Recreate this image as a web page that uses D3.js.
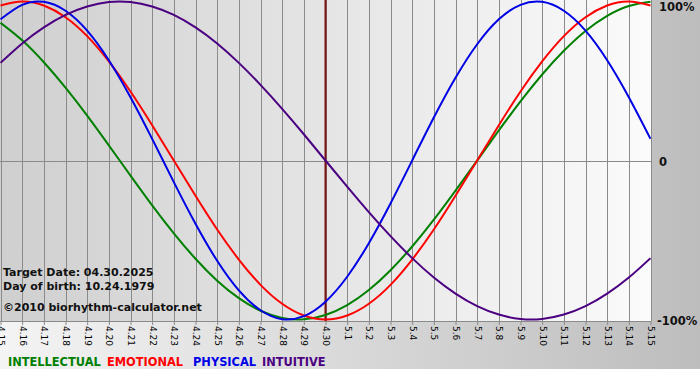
<!DOCTYPE html>
<html><head><meta charset="utf-8">
<script src="https://cdn.jsdelivr.net/npm/d3@7"></script>
<style>
html,body{margin:0;padding:0;background:#fff;}
svg{display:block;font-family:"DejaVu Sans",Verdana,sans-serif;}
</style></head>
<body><svg id="c" width="700" height="380"></svg>
<script>
const dates = ["4.15","4.16","4.17","4.18","4.19","4.20","4.21","4.22","4.23","4.24","4.25","4.26","4.27","4.28","4.29","4.30",
  "5.1","5.2","5.3","5.4","5.5","5.6","5.7","5.8","5.9","5.10","5.11","5.12","5.13","5.14","5.15"];
const targetDate = "4.30";
const physical = [88.8,97.9,99.8,94.2,81.7,63.1,39.8,13.6,-13.6,-39.8,-63.1,-81.7,-94.2,-99.8,-97.9,-88.8,
  -73.1,-52.0,-27.0,0,27.0,52.0,73.1,88.8,97.9,99.8,94.2,81.7,63.1,39.8,13.6];
const emotional = [97.5,100,97.5,90.1,78.2,62.3,43.4,22.2,0,-22.2,-43.4,-62.3,-78.2,-90.1,-97.5,-100,
  -97.5,-90.1,-78.2,-62.3,-43.4,-22.2,0,22.2,43.4,62.3,78.2,90.1,97.5,100,97.5];
const intellectual = [86.6,75.6,61.8,45.8,28.2,9.5,-9.5,-28.2,-45.8,-61.8,-75.6,-86.6,-94.5,-99.0,-99.9,-97.2,
  -91.0,-81.5,-69.0,-54.1,-37.2,-18.9,0,18.9,37.2,54.1,69.0,81.5,91.0,97.2,99.9];
const intuitive = [61.4,73.6,83.7,91.6,96.9,99.7,99.7,96.9,91.6,83.7,73.6,61.4,47.6,32.5,16.5,0,
  -16.5,-32.5,-47.6,-61.4,-73.6,-83.7,-91.6,-96.9,-99.7,-99.7,-96.9,-91.6,-83.7,-73.6,-61.4];
const yTickValues = [100, 0, -100];
const yTickLabels = ["100%", "0", "-100%"];
const seriesNames = ["INTELLECTUAL","EMOTIONAL","PHYSICAL","INTUITIVE"];
const infoLines = ["Target Date: 04.30.2025","Day of birth: 10.24.1979"];
const copyright = "\u00A92010 biorhythm-calculator.net";

const series = [
  {name:"INTELLECTUAL", values:intellectual, color:"#008000"},
  {name:"EMOTIONAL", values:emotional, color:"#ff0000"},
  {name:"PHYSICAL", values:physical, color:"#0000e6"},
  {name:"INTUITIVE", values:intuitive, color:"#4b0082"}
];

const svg = d3.select("#c");
const W = 651, H = 321;
const defs = svg.append("defs");
const g1 = defs.append("linearGradient").attr("id","bg").attr("x1",0).attr("x2",1).attr("y1",0).attr("y2",0);
g1.append("stop").attr("offset",0).attr("stop-color","#f4f4f4");
g1.append("stop").attr("offset",1).attr("stop-color","#bdbdbd");
const g2 = defs.append("linearGradient").attr("id","pg").attr("x1",0).attr("x2",1).attr("y1",0).attr("y2",0);
g2.append("stop").attr("offset",0).attr("stop-color","#cfcfcf");
g2.append("stop").attr("offset",1).attr("stop-color","#fbfbfb");
defs.append("clipPath").attr("id","clip").append("rect").attr("x",0).attr("y",0).attr("width",W).attr("height",H);

svg.append("rect").attr("x",0).attr("y",0).attr("width",700).attr("height",369).attr("fill","url(#bg)");
svg.append("rect").attr("x",0).attr("y",0).attr("width",W).attr("height",H).attr("fill","url(#pg)");

const x = d3.scalePoint().domain(dates).range([0.5, W - 0.5]);
const y = d3.scaleLinear().domain([-100, 100]).range([319.5, 1.5]);

// vertical grid
svg.append("g").selectAll("line").data(dates).join("line")
  .attr("x1", d => Math.round(x(d)) + 0.5).attr("x2", d => Math.round(x(d)) + 0.5)
  .attr("y1", 0).attr("y2", H)
  .attr("stroke", "#8a8a8a").attr("stroke-width", 1);
// zero line
svg.append("line").attr("x1",0).attr("x2",W).attr("y1",Math.round(y(0))+0.5).attr("y2",Math.round(y(0))+0.5)
  .attr("stroke","#8a8a8a");
// bottom border
svg.append("line").attr("x1",0).attr("x2",W).attr("y1",H+0.5).attr("y2",H+0.5).attr("stroke","#8a8a8a");

// x axis
const xAxis = d3.axisBottom(x).tickSize(4).tickPadding(3);
const ax = svg.append("g").attr("transform", `translate(0,${H})`).call(xAxis);
ax.select(".domain").remove();
ax.selectAll(".tick line").attr("stroke","#8a8a8a");
ax.selectAll(".tick text")
  .attr("transform","rotate(90)").attr("text-anchor","start")
  .attr("x", 5).attr("y", 0).attr("dy", "0.35em")
  .attr("font-size", 9).attr("fill", "#000")
  .attr("font-family", '"DejaVu Sans",Verdana,sans-serif');

// target line
svg.append("line").attr("x1", x(targetDate)).attr("x2", x(targetDate)).attr("y1",0).attr("y2",H)
  .attr("stroke","#7a1010").attr("stroke-width",2);

// curves
const line = d3.line().x((d,i) => x(dates[i])).y(d => y(d)).curve(d3.curveNatural);
svg.append("g").attr("clip-path","url(#clip)").selectAll("path").data(series).join("path")
  .attr("d", d => line(d.values)).attr("fill","none")
  .attr("stroke", d => d.color).attr("stroke-width", 2);

// y labels
const yl = svg.append("g");
const yOffsets = [9.5, 5.5, 5.5];
yTickValues.forEach((v,i) => {
  yl.append("text").attr("x", i === 2 ? 657 : 659).attr("y", y(v) + yOffsets[i])
    .attr("font-size", 11.5).attr("font-weight","bold").attr("fill","#111").text(yTickLabels[i]);
});

// info text
const info = svg.append("g").attr("font-weight","bold").attr("font-size",11).attr("fill","#111");
info.append("text").attr("x",3).attr("y",276).text(infoLines[0]);
info.append("text").attr("x",3).attr("y",290).text(infoLines[1]);
info.append("text").attr("x",3).attr("y",311).text(copyright);

// legend
const legX = [8, 107, 193, 262];
svg.append("g").selectAll("text").data(series).join("text")
  .attr("x", (d,i) => legX[i]).attr("y", 366)
  .attr("font-size", 11.4).attr("font-weight","bold")
  .attr("fill", d => d.color).text((d,i) => seriesNames[i]);
</script></body></html>
